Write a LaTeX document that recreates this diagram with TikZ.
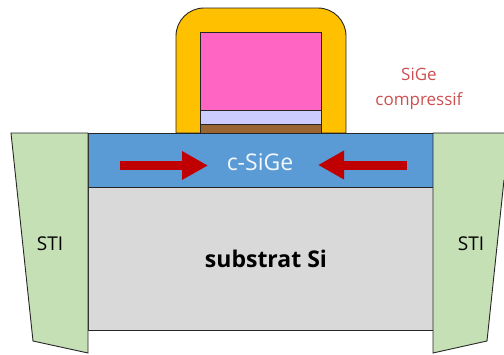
\documentclass[tikz,border=0pt]{standalone}
\usepackage{fontspec}
\setmainfont{Open Sans}
\usetikzlibrary{arrows.meta}
\definecolor{myorange}{RGB}{255,192,0}
\definecolor{mypink}{RGB}{255,102,196}
\definecolor{mylav}{RGB}{204,204,255}
\definecolor{mybrown}{RGB}{153,102,51}
\definecolor{myblue}{RGB}{91,155,213}
\definecolor{mygray}{RGB}{217,217,217}
\definecolor{mygreen}{RGB}{197,224,180}
\definecolor{myred}{RGB}{192,0,0}
\definecolor{mytext}{RGB}{205,80,80}
\tikzset{
    layer/.style={draw=black!85, line width=0.9pt},
    stress/.style={draw=myred, line width=9pt, -{Triangle[length=26pt, width=27pt]}},
}

\begin{document}
\begin{tikzpicture}[x=1pt, y=-1pt]
    \useasboundingbox (0,0) rectangle (504,354);
    % Gate stack
    \begin{scope}
        \draw[layer, fill=myorange] (176,133) [rounded corners=28pt] -- (176,8) -- (346,8) [sharp corners] -- (346,133) -- cycle;
        \draw[layer, fill=mypink] (200.5,32) rectangle (321,110);
        \draw[layer, fill=mylav] (200.5,110) rectangle (321,124);
        \draw[layer, fill=mybrown] (200.5,124) rectangle (321,133);
    \end{scope}
    % Substrate and channel
    \begin{scope}
        \draw[layer, fill=mygray] (88,187) rectangle (433,330);
        \draw[layer, fill=myblue] (88,133) rectangle (433,187);
        \draw[layer, fill=mygreen] (11,133) -- (88,133) -- (88,353) -- (33,341) -- cycle;
        \draw[layer, fill=mygreen] (504,133) -- (433,133) -- (433,353) -- (487,341) -- (504,180);
    \end{scope}
    % Stress arrows
    \coordinate (stressL) at (120,165.5);
    \coordinate (stressLtip) at (208,165.5);
    \coordinate (stressR) at (407,165);
    \coordinate (stressRtip) at (318,165);
    \draw[stress] (stressL) -- (stressLtip);
    \draw[stress] (stressR) -- (stressRtip);
    % Labels
    \node[text=white!92!myblue, font=\fontsize{23}{27}\selectfont] (channel) at (260,162) {c-SiGe};
    \node[font=\fontsize{19}{23}\selectfont] (stiL) at (50,244) {STI};
    \node[font=\fontsize{19}{23}\selectfont] (stiR) at (471,244) {STI};
    \node[font=\bfseries\fontsize{23}{27}\selectfont] (substrat) at (266,259) {substrat Si};
    \node[text=mytext, align=center, font=\fontsize{17}{24.5}\selectfont] (sige) at (419,89) {SiGe\\compressif};
\end{tikzpicture}
\end{document}
